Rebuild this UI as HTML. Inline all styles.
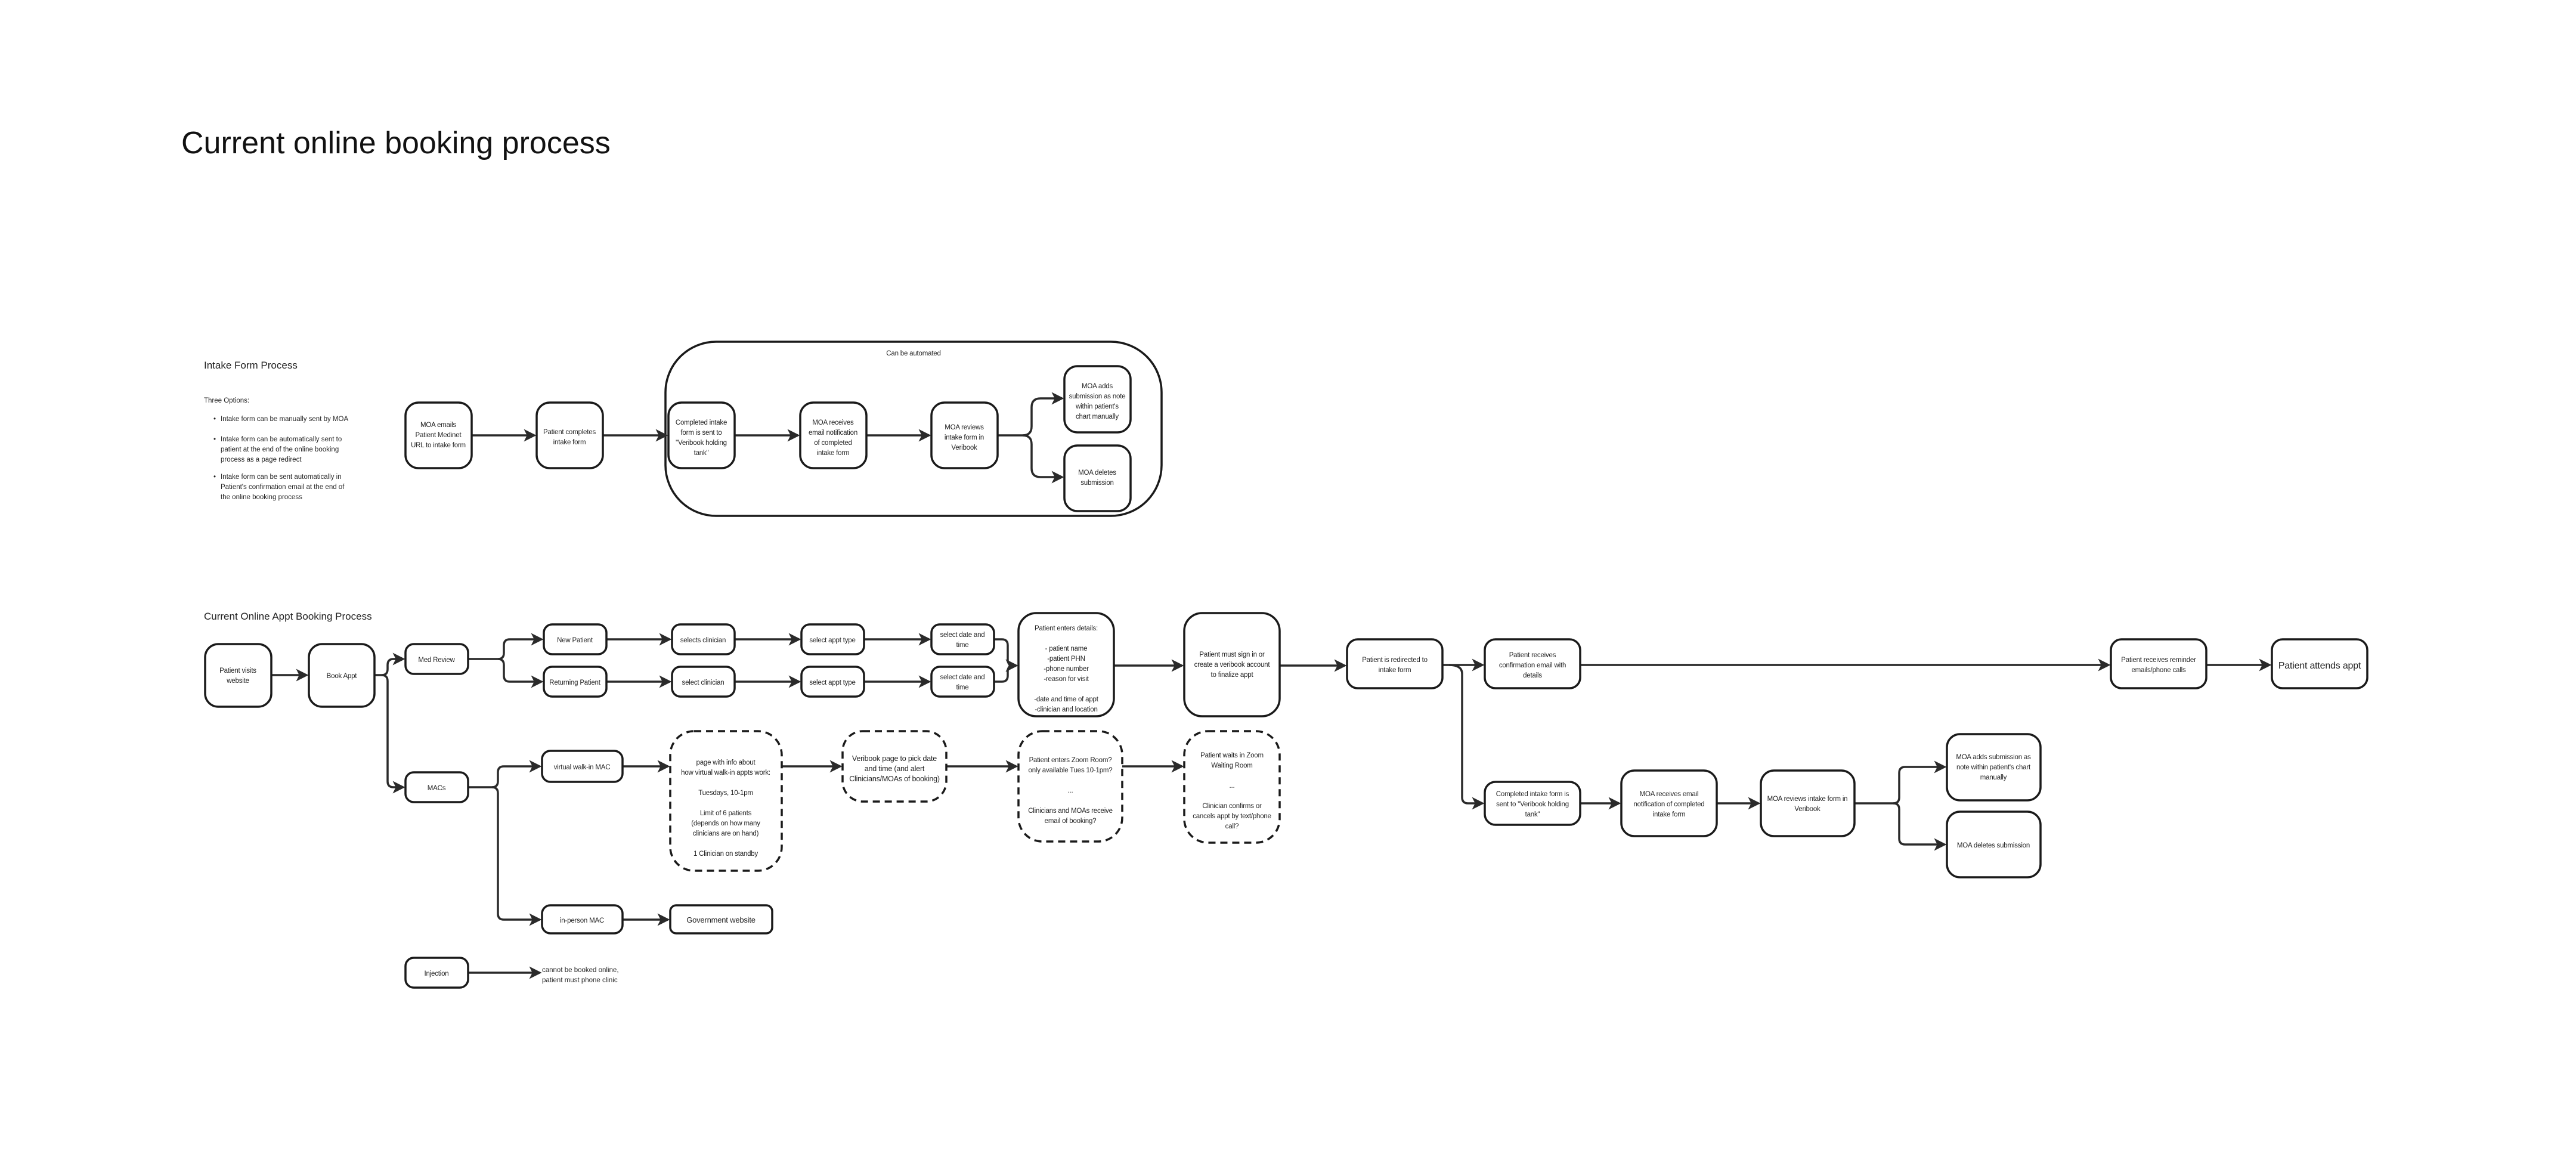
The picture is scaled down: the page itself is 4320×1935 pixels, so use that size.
<!DOCTYPE html>
<html><head><meta charset="utf-8"><style>
html,body{margin:0;padding:0;background:#fff;}
svg{display:block;}
text{font-family:"Liberation Sans Narrow","Liberation Sans",sans-serif;fill:#222;}
.b{fill:#fff;stroke:#1a1a1a;stroke-width:3.5;}
.d{fill:#fff;stroke:#1a1a1a;stroke-width:3.5;stroke-dasharray:12 8;}
.l{fill:none;stroke:#2a2a2a;stroke-width:3.5;}
.t{font-size:11.5px;text-anchor:middle;letter-spacing:-0.2px;}
</style></head><body>
<svg width="4320" height="1935" viewBox="0 0 4320 1935" xmlns="http://www.w3.org/2000/svg">
<defs><marker id="a" markerWidth="6" markerHeight="6" refX="5" refY="3" orient="auto" markerUnits="strokeWidth"><path d="M0,0 L6,3 L0,6 L1.5,3 z" fill="#2a2a2a"/></marker></defs>
<rect width="4320" height="1935" fill="#fff"/>
<text x="304" y="257" style="font-family:'Liberation Sans',sans-serif;font-size:52px;fill:#111">Current online booking process</text>

<text x="342" y="618" style="font-size:17px">Intake Form Process</text>
<text x="342" y="675" style="font-size:11.5px">Three Options:</text>
<g style="font-size:11.5px">
<text x="358" y="706">•</text><text x="370" y="706">Intake form can be manually sent by MOA</text>
<text x="358" y="740">•</text><text x="370" y="740">Intake form can be automatically sent to</text>
<text x="370" y="757">patient at the end of the online booking</text>
<text x="370" y="774">process as a page redirect</text>
<text x="358" y="803">•</text><text x="370" y="803">Intake form can be sent automatically in</text>
<text x="370" y="820">Patient's confirmation email at the end of</text>
<text x="370" y="837">the online booking process</text>
</g>
<rect class="b" x="1116" y="573" width="832" height="292" rx="85"/>
<text class="t" x="1532" y="596">Can be automated</text>

<path class="l" d="M791,730 H896" marker-end="url(#a)"/>
<path class="l" d="M1011,730 H1117" marker-end="url(#a)"/>
<path class="l" d="M1232,730 H1338" marker-end="url(#a)"/>
<path class="l" d="M1453,730 H1558" marker-end="url(#a)"/>
<path class="l" d="M1673,730 H1715 Q1730,730 1730,715 V683 Q1730,668 1745,668 H1781" marker-end="url(#a)"/>
<path class="l" d="M1715,730 Q1730,730 1730,745 V785 Q1730,800 1745,800 H1781" marker-end="url(#a)"/>

<rect class="b" x="680" y="675" width="111" height="110" rx="22"/>
<text class="t" x="735" y="716">MOA emails</text><text class="t" x="735" y="733">Patient Medinet</text><text class="t" x="735" y="750">URL to intake form</text>
<rect class="b" x="900" y="675" width="111" height="110" rx="22"/>
<text class="t" x="955" y="728">Patient completes</text><text class="t" x="955" y="745">intake form</text>
<rect class="b" x="1121" y="675" width="111" height="110" rx="22"/>
<text class="t" x="1176" y="712">Completed intake</text><text class="t" x="1176" y="729">form is sent to</text><text class="t" x="1176" y="746">"Veribook holding</text><text class="t" x="1176" y="763">tank"</text>
<rect class="b" x="1342" y="675" width="111" height="110" rx="22"/>
<text class="t" x="1397" y="712">MOA receives</text><text class="t" x="1397" y="729">email notification</text><text class="t" x="1397" y="746">of completed</text><text class="t" x="1397" y="763">intake form</text>
<rect class="b" x="1562" y="675" width="111" height="110" rx="22"/>
<text class="t" x="1617" y="720">MOA reviews</text><text class="t" x="1617" y="737">intake form in</text><text class="t" x="1617" y="754">Veribook</text>
<rect class="b" x="1785" y="614" width="111" height="111" rx="22"/>
<text class="t" x="1840" y="651">MOA adds</text><text class="t" x="1840" y="668">submission as note</text><text class="t" x="1840" y="685">within patient's</text><text class="t" x="1840" y="702">chart manually</text>
<rect class="b" x="1785" y="747" width="111" height="110" rx="22"/>
<text class="t" x="1840" y="796">MOA deletes</text><text class="t" x="1840" y="813">submission</text>

<text x="342" y="1039" style="font-size:17px">Current Online Appt Booking Process</text>

<path class="l" d="M455,1132 H514" marker-end="url(#a)"/>
<path class="l" d="M628,1132 H640 Q650,1132 650,1122 V1115 Q650,1105 660,1105 H676" marker-end="url(#a)"/>
<path class="l" d="M640,1132 Q650,1132 650,1142 V1310 Q650,1320 660,1320 H676" marker-end="url(#a)"/>
<path class="l" d="M785,1105 H835 Q845,1105 845,1095 V1082 Q845,1072 855,1072 H908" marker-end="url(#a)"/>
<path class="l" d="M835,1105 Q845,1105 845,1115 V1133 Q845,1143 855,1143 H908" marker-end="url(#a)"/>
<path class="l" d="M1017,1072 H1123" marker-end="url(#a)"/>
<path class="l" d="M1232,1072 H1340" marker-end="url(#a)"/>
<path class="l" d="M1449,1072 H1558" marker-end="url(#a)"/>
<path class="l" d="M1017,1143 H1123" marker-end="url(#a)"/>
<path class="l" d="M1232,1143 H1340" marker-end="url(#a)"/>
<path class="l" d="M1449,1143 H1558" marker-end="url(#a)"/>
<path class="l" d="M1667,1072 H1680 Q1690,1072 1690,1082 V1106 Q1690,1116 1700,1116 H1704" marker-end="url(#a)"/>
<path class="l" d="M1667,1143 H1680 Q1690,1143 1690,1133 V1126 Q1690,1116 1700,1116 H1704" marker-end="url(#a)"/>
<path class="l" d="M1868,1116 H1982" marker-end="url(#a)"/>
<path class="l" d="M2146,1116 H2255" marker-end="url(#a)"/>
<path class="l" d="M2419,1115 H2486" marker-end="url(#a)"/>
<path class="l" d="M2650,1115 H3536" marker-end="url(#a)"/>
<path class="l" d="M3700,1115 H3806" marker-end="url(#a)"/>
<path class="l" d="M2430,1115 Q2452,1115 2452,1130 V1337 Q2452,1347 2462,1347 H2486" marker-end="url(#a)"/>
<path class="l" d="M2650,1347 H2715" marker-end="url(#a)"/>
<path class="l" d="M2879,1347 H2949" marker-end="url(#a)"/>
<path class="l" d="M3110,1347 H3175 Q3185,1347 3185,1337 V1296 Q3185,1286 3195,1286 H3261" marker-end="url(#a)"/>
<path class="l" d="M3175,1347 Q3185,1347 3185,1357 V1406 Q3185,1416 3195,1416 H3261" marker-end="url(#a)"/>
<path class="l" d="M785,1320 H825 Q835,1320 835,1310 V1295 Q835,1285 845,1285 H905" marker-end="url(#a)"/>
<path class="l" d="M825,1320 Q835,1320 835,1330 V1532 Q835,1542 845,1542 H905" marker-end="url(#a)"/>
<path class="l" d="M1044,1285 H1120" marker-end="url(#a)"/>
<path class="l" d="M1311,1285 H1409" marker-end="url(#a)"/>
<path class="l" d="M1587,1285 H1704" marker-end="url(#a)"/>
<path class="l" d="M1882,1285 H1982" marker-end="url(#a)"/>
<path class="l" d="M1044,1542 H1120" marker-end="url(#a)"/>
<path class="l" d="M785,1631 H905" marker-end="url(#a)"/>

<rect class="b" x="344" y="1080" width="111" height="105" rx="22"/>
<text class="t" x="399" y="1128">Patient visits</text><text class="t" x="399" y="1145">website</text>
<rect class="b" x="518" y="1080" width="110" height="105" rx="22"/>
<text class="t" x="573" y="1137">Book Appt</text>
<rect class="b" x="680" y="1080" width="105" height="50" rx="14"/>
<text class="t" x="732" y="1110">Med Review</text>
<rect class="b" x="680" y="1295" width="105" height="50" rx="14"/>
<text class="t" x="732" y="1325">MACs</text>
<rect class="b" x="912" y="1047" width="105" height="50" rx="14"/>
<text class="t" x="964" y="1077">New Patient</text>
<rect class="b" x="912" y="1118" width="105" height="50" rx="14"/>
<text class="t" x="964" y="1148">Returning Patient</text>
<rect class="b" x="1127" y="1047" width="105" height="50" rx="14"/>
<text class="t" x="1179" y="1077">selects clinician</text>
<rect class="b" x="1127" y="1118" width="105" height="50" rx="14"/>
<text class="t" x="1179" y="1148">select clinician</text>
<rect class="b" x="1344" y="1047" width="105" height="50" rx="14"/>
<text class="t" x="1396" y="1077">select appt type</text>
<rect class="b" x="1344" y="1118" width="105" height="50" rx="14"/>
<text class="t" x="1396" y="1148">select appt type</text>
<rect class="b" x="1562" y="1047" width="105" height="50" rx="14"/>
<text class="t" x="1614" y="1068">select date and</text><text class="t" x="1614" y="1085">time</text>
<rect class="b" x="1562" y="1118" width="105" height="50" rx="14"/>
<text class="t" x="1614" y="1139">select date and</text><text class="t" x="1614" y="1156">time</text>
<rect class="b" x="1708" y="1028" width="160" height="173" rx="30"/>
<text class="t" x="1788" y="1057">Patient enters details:</text>
<text class="t" x="1788" y="1091">- patient name</text><text class="t" x="1788" y="1108">-patient PHN</text><text class="t" x="1788" y="1125">-phone number</text><text class="t" x="1788" y="1142">-reason for visit</text>
<text class="t" x="1788" y="1176">-date and time of appt</text><text class="t" x="1788" y="1193">-clinician and location</text>
<rect class="b" x="1986" y="1028" width="160" height="173" rx="30"/>
<text class="t" x="2066" y="1101">Patient must sign in or</text><text class="t" x="2066" y="1118">create a veribook account</text><text class="t" x="2066" y="1135">to finalize appt</text>
<rect class="b" x="2259" y="1072" width="160" height="82" rx="18"/>
<text class="t" x="2339" y="1110">Patient is redirected to</text><text class="t" x="2339" y="1127">intake form</text>
<rect class="b" x="2490" y="1072" width="160" height="82" rx="18"/>
<text class="t" x="2570" y="1102">Patient receives</text><text class="t" x="2570" y="1119">confirmation email with</text><text class="t" x="2570" y="1136">details</text>
<rect class="b" x="3540" y="1072" width="160" height="82" rx="18"/>
<text class="t" x="3620" y="1110">Patient receives reminder</text><text class="t" x="3620" y="1127">emails/phone calls</text>
<rect class="b" x="3810" y="1072" width="160" height="82" rx="18"/>
<text class="t" x="3890" y="1121" style="font-size:16px">Patient attends appt</text>
<rect class="b" x="2490" y="1311" width="160" height="72" rx="18"/>
<text class="t" x="2570" y="1335">Completed intake form is</text><text class="t" x="2570" y="1352">sent to "Veribook holding</text><text class="t" x="2570" y="1369">tank"</text>
<rect class="b" x="2719" y="1292" width="160" height="110" rx="22"/>
<text class="t" x="2799" y="1335">MOA receives email</text><text class="t" x="2799" y="1352">notification of completed</text><text class="t" x="2799" y="1369">intake form</text>
<rect class="b" x="2953" y="1292" width="157" height="110" rx="22"/>
<text class="t" x="3031" y="1343">MOA reviews intake form in</text><text class="t" x="3031" y="1360">Veribook</text>
<rect class="b" x="3265" y="1231" width="157" height="111" rx="22"/>
<text class="t" x="3343" y="1273">MOA adds submission as</text><text class="t" x="3343" y="1290">note within patient's chart</text><text class="t" x="3343" y="1307">manually</text>
<rect class="b" x="3265" y="1361" width="157" height="110" rx="22"/>
<text class="t" x="3343" y="1421">MOA deletes submission</text>

<rect class="b" x="909" y="1259" width="135" height="52" rx="14"/>
<text class="t" x="976" y="1290">virtual walk-in MAC</text>
<rect class="d" x="1124" y="1226" width="187" height="234" rx="40"/>
<text class="t" x="1217" y="1282">page with info about</text><text class="t" x="1217" y="1299">how virtual walk-in appts work:</text>
<text class="t" x="1217" y="1333">Tuesdays, 10-1pm</text>
<text class="t" x="1217" y="1367">Limit of 6 patients</text><text class="t" x="1217" y="1384">(depends on how many</text><text class="t" x="1217" y="1401">clinicians are on hand)</text>
<text class="t" x="1217" y="1435">1 Clinician on standby</text>
<rect class="d" x="1413" y="1226" width="174" height="118" rx="34"/>
<text class="t" x="1500" y="1276" style="font-size:12.5px">Veribook page to pick date</text><text class="t" x="1500" y="1293" style="font-size:12.5px">and time (and alert</text><text class="t" x="1500" y="1310" style="font-size:12.5px">Clinicians/MOAs of booking)</text>
<rect class="d" x="1708" y="1226" width="174" height="185" rx="40"/>
<text class="t" x="1795" y="1278">Patient enters Zoom Room?</text><text class="t" x="1795" y="1295">only available Tues 10-1pm?</text>
<text class="t" x="1795" y="1329">...</text>
<text class="t" x="1795" y="1363">Clinicians  and MOAs receive</text><text class="t" x="1795" y="1380">email of booking?</text>
<rect class="d" x="1986" y="1226" width="160" height="187" rx="40"/>
<text class="t" x="2066" y="1270">Patient waits in Zoom</text><text class="t" x="2066" y="1287">Waiting Room</text>
<text class="t" x="2066" y="1321">...</text>
<text class="t" x="2066" y="1355">Clinician confirms or</text><text class="t" x="2066" y="1372">cancels appt by text/phone</text><text class="t" x="2066" y="1389">call?</text>
<rect class="b" x="909" y="1518" width="135" height="47" rx="14"/>
<text class="t" x="976" y="1547">in-person MAC</text>
<rect class="b" x="1124" y="1518" width="171" height="47" rx="10"/>
<text class="t" x="1209" y="1547" style="font-size:13px">Government website</text>
<rect class="b" x="680" y="1606" width="105" height="50" rx="14"/>
<text class="t" x="732" y="1636">Injection</text>
<text x="909" y="1630" style="font-size:11.5px">cannot be booked online,</text>
<text x="909" y="1647" style="font-size:11.5px">patient must phone clinic</text>
</svg>
</body></html>
